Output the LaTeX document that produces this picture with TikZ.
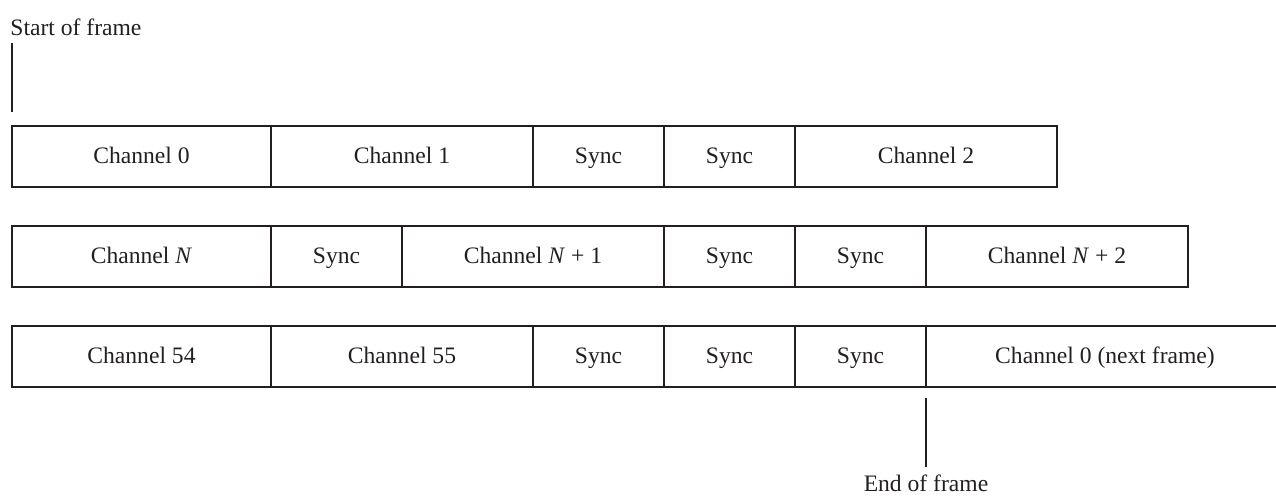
\documentclass[tikz,border=0pt]{standalone}
\usepackage{fontspec}
\setmainfont{Liberation Serif}
\usetikzlibrary{positioning}
\definecolor{ink}{HTML}{231F20}

\tikzset{
    cell/.style={draw=ink, line width=0.8pt, outer sep=0pt, inner sep=0pt,
        minimum height=30.5pt, text height=8.2pt, text depth=1.2pt,
        text=ink, font=\fontsize{11.8}{14}\selectfont},
    first/.style={cell, minimum width=129.5pt},
    chan/.style={cell, minimum width=131pt},
    sync/.style={cell, minimum width=65.5pt},
    marker/.style={draw=ink, line width=0.8pt},
    tag/.style={text=ink, inner sep=0pt, font=\fontsize{11.8}{14}\selectfont},
}

\begin{document}
\begin{tikzpicture}[]
    \useasboundingbox (0,0) rectangle (638pt,-247.5pt);

    % first row
    \node [first, anchor=north west] at (6pt,-63pt) (c0) {Channel 0};
    \node [chan, right=0pt of c0] (c1) {Channel 1};
    \node [sync, right=0pt of c1] (s1) {Sync};
    \node [sync, right=0pt of s1] (s2) {Sync};
    \node [chan, right=0pt of s2] (c2) {Channel 2};

    % second row
    \node [first, below=19.5pt of c0] (cN) {Channel \textit{N}};
    \node [sync, right=0pt of cN] (s3) {Sync};
    \node [chan, right=0pt of s3] (cN1) {Channel \textit{N} + 1};
    \node [sync, right=0pt of cN1] (s4) {Sync};
    \node [sync, right=0pt of s4] (s5) {Sync};
    \node [chan, right=0pt of s5] (cN2) {Channel \textit{N} + 2};

    % last row
    \node [first, below=19.5pt of cN] (c54) {Channel 54};
    \node [chan, right=0pt of c54] (c55) {Channel 55};
    \node [sync, right=0pt of c55] (s6) {Sync};
    \node [sync, right=0pt of s6] (s7) {Sync};
    \node [sync, right=0pt of s7] (s8) {Sync};
    \node [cell, draw=none, minimum width=179pt, right=0pt of s8] (nxt) {Channel 0 (next frame)};
    \draw [marker] (nxt.north east) -- (nxt.north west) -- (nxt.south west) -- (nxt.south east);

    % frame markers
    \coordinate (sfa) at ([yshift=7pt]c0.north west);
    \coordinate (sfb) at ([yshift=41.5pt]c0.north west);
    \node [tag, anchor=base west] at ([xshift=-1pt, yshift=4pt]sfb) (start) {Start of frame};
    \draw [marker] (sfa) -- (sfb);

    \coordinate (efa) at ([yshift=-5.5pt]nxt.south west);
    \coordinate (efb) at ([yshift=-40pt]nxt.south west);
    \node [tag, anchor=base] at ([yshift=-12pt]efb) (end) {End of frame};
    \draw [marker] (efa) -- (efb);
\end{tikzpicture}
\end{document}
